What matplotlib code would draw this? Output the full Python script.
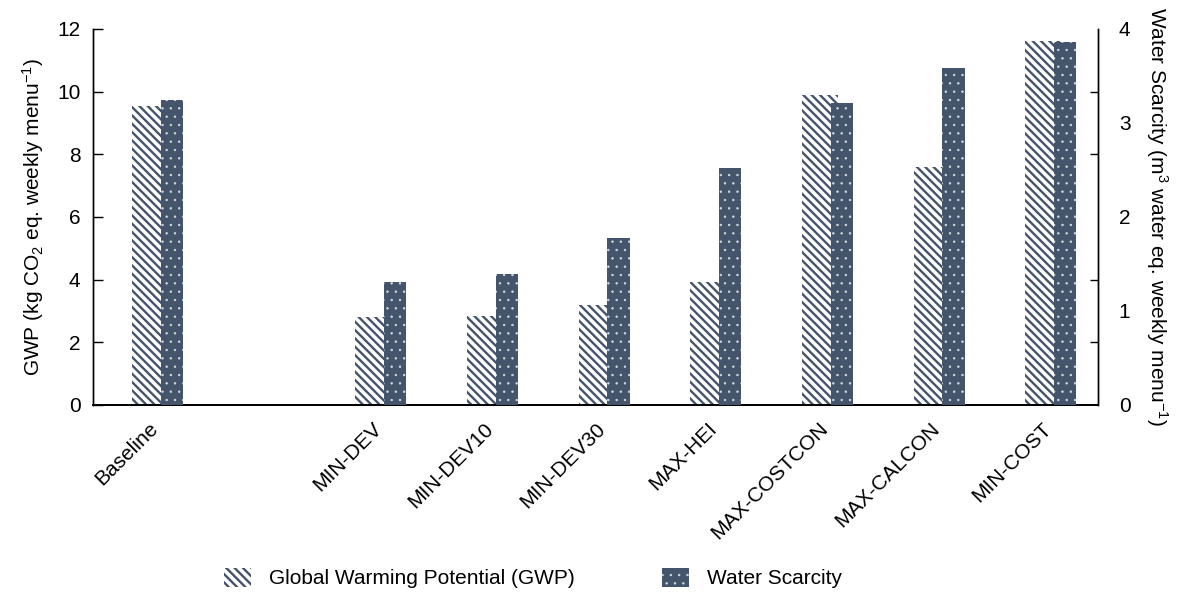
import numpy as np
import matplotlib
matplotlib.use("Agg")
import matplotlib.pyplot as plt
from matplotlib.patches import Patch

plt.rcParams['font.family'] = ['Liberation Sans', 'DejaVu Sans']
plt.rcParams['mathtext.default'] = 'regular'

# scenarios, one empty slot after Baseline
categories = ['Baseline', '', 'MIN-DEV', 'MIN-DEV10', 'MIN-DEV30', 'MAX-HEI',
              'MAX-COSTCON', 'MAX-CALCON', 'MIN-COST']
gwp = [9.54, np.nan, 2.82, 2.84, 3.19, 3.93, 9.89, 7.61, 11.62]
water = [3.24, np.nan, 1.31, 1.39, 1.78, 2.52, 3.21, 3.59, 3.86]

dark = '#44546a'
dot_col = '#d5dbe4'
stripes = chr(92) * 4   # four backslashes -> dense "\" stripes
dots = '..'
x = np.arange(len(categories))


def hatch_lw(p, lw):
    # hatch linewidth per patch (mpl 3.10 keeps it on the artist)
    if hasattr(p, 'set_hatch_linewidth'):
        p.set_hatch_linewidth(lw)
    p._hatch_linewidth = lw
    orig = p.draw

    def draw(renderer):
        with plt.rc_context({'hatch.linewidth': lw}):
            orig(renderer)
    p.draw = draw


fig = plt.figure(figsize=(11.77, 5.96), dpi=100)
ax = fig.add_axes([93/1177, 1 - 405/596, (1098 - 93)/1177, (405 - 29)/596])
ax2 = ax.twinx()

# GWP bars (striped) on the left axis
b1 = ax.bar(x + 0.01, gwp, width=0.32, color='white', edgecolor=dark,
            hatch=stripes, linewidth=0, zorder=2)
for p in b1:
    hatch_lw(p, 1.7)

# water scarcity bars (dotted) on the right axis, drawn over the GWP bars
b2 = ax2.bar(x + 0.205, water, width=0.2, color=dark, edgecolor=dot_col,
             hatch=dots, linewidth=0, zorder=3)
for p in b2:
    hatch_lw(p, 0.5)

ax.set_xlim(-0.5, len(categories) - 0.5)
ax.set_ylim(0, 12)
ax2.set_ylim(0, 4)

ax.set_yticks(np.arange(0, 13, 2))
ax.tick_params(axis='y', direction='in', length=7, width=1, labelsize=15, pad=9)
ax.set_xticks(x)
ax.set_xticklabels(categories, rotation=45, ha='right', rotation_mode='anchor',
                   fontsize=15)
ax.tick_params(axis='x', length=0, pad=10)

ax2.set_yticks(np.arange(0, 5, 1))
ax2.set_yticks(np.arange(0, 12.01, 2) / 3, minor=True)
ax2.tick_params(axis='y', which='major', length=0, labelsize=15, pad=15)
ax2.tick_params(axis='y', which='minor', direction='in', length=6, width=1)

for a in (ax, ax2):
    a.spines['top'].set_visible(False)
    a.spines['left'].set_linewidth(1)
    a.spines['right'].set_linewidth(1)
    a.spines['bottom'].set_linewidth(1.3)

ax.set_ylabel('GWP (kg CO$_2$ eq. weekly menu$^{-1}$)', fontsize=15, labelpad=8)
ax2.set_ylabel('Water Scarcity (m$^3$ water eq. weekly menu$^{-1}$)', fontsize=15,
               rotation=-90, va='bottom', labelpad=10)

handles = [Patch(facecolor='white', edgecolor=dark, hatch=stripes, linewidth=0,
                 label='Global Warming Potential (GWP)'),
           Patch(facecolor=dark, edgecolor=dot_col, hatch=dots, linewidth=0,
                 label='Water Scarcity')]
leg = fig.legend(handles=handles, loc='center', bbox_to_anchor=(0.453, 0.03),
                 ncol=2, frameon=False, fontsize=15, handlelength=1.3,
                 handleheight=1.0, handletextpad=0.85, columnspacing=4.2)
lp = leg.get_patches()
hatch_lw(lp[0], 1.7)
hatch_lw(lp[1], 0.5)

fig.savefig('out.png', dpi=100)
